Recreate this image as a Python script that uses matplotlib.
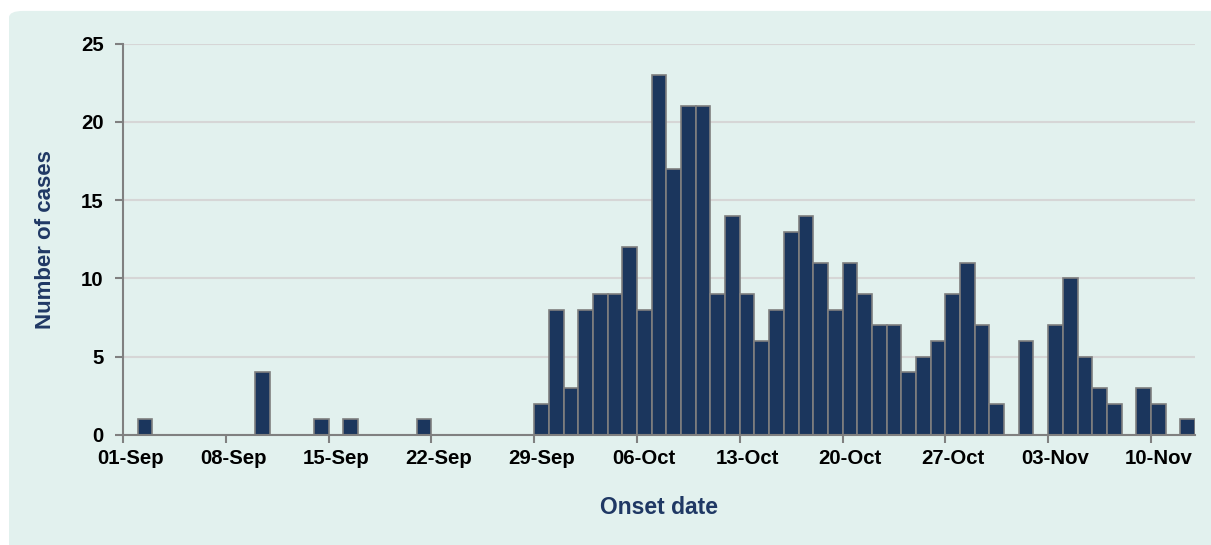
import pandas as pd
import numpy as np
import matplotlib
matplotlib.use('Agg')
import matplotlib.pyplot as plt
from matplotlib.patches import FancyBboxPatch

plt.rcParams['font.family'] = ['Liberation Sans', 'DejaVu Sans']

# daily onset counts, 01-Sep to 12-Nov
start_date = '2023-09-01'
cases = [0, 1, 0, 0, 0, 0, 0, 0, 0, 4,
         0, 0, 0, 1, 0, 1, 0, 0, 0, 0,
         1, 0, 0, 0, 0, 0, 0, 0, 2, 8,
         3, 8, 9, 9, 12, 8, 23, 17, 21, 21,
         9, 14, 9, 6, 8, 13, 14, 11, 8, 11,
         9, 7, 7, 4, 5, 6, 9, 11, 7, 2,
         0, 6, 0, 7, 10, 5, 3, 2, 0, 3,
         2, 0, 1]
tick_labels = ['01-Sep', '08-Sep', '15-Sep', '22-Sep', '29-Sep', '06-Oct',
               '13-Oct', '20-Oct', '27-Oct', '03-Nov', '10-Nov']

dates = pd.date_range(start_date, periods=len(cases), freq='D')
df = pd.DataFrame({'date': dates, 'cases': cases})

navy = '#1B365D'
bg = '#E2F1EE'

fig = plt.figure(figsize=(12.11, 5.45), dpi=100)
fig.patch.set_facecolor('white')
panel = FancyBboxPatch((9 / 1211, -0.05), 1.2, 1.03,
                       boxstyle='round,pad=0,rounding_size=0.012',
                       transform=fig.transFigure, facecolor=bg, edgecolor='none',
                       zorder=-10)
fig.patches.append(panel)

ax = fig.add_axes([123 / 1211, 110 / 545, 1072 / 1211, 391.3 / 545])
ax.set_facecolor(bg)

x = np.arange(len(df))
ax.bar(x, df['cases'], width=1.0, color=navy, edgecolor='#7F7F7F',
       linewidth=1.2, zorder=3)

ax.set_xlim(-0.5, len(df) - 0.5)
ax.set_ylim(0, 25)
ax.set_yticks([0, 5, 10, 15, 20, 25])
ax.yaxis.grid(True, color='#D6D6D6', linewidth=1.5, zorder=0)
ax.set_axisbelow(True)

# tick marks on category boundaries, labels on category centres
ax.set_xticks(np.arange(-0.5, len(df), 7))
ax.set_xticklabels([])
ax.set_xticks(np.arange(0, len(df), 7), minor=True)
ax.set_xticklabels(tick_labels, minor=True)
ax.tick_params(axis='x', which='major', length=6, width=1.5, color='#808080')
ax.tick_params(axis='x', which='minor', length=0, pad=10, labelsize=14.7)
ax.tick_params(axis='y', length=6, width=1.5, color='#808080', pad=8, labelsize=14.7)
for lab in ax.get_xticklabels(minor=True) + ax.get_yticklabels():
    lab.set_fontweight('bold')

for s in ['top', 'right']:
    ax.spines[s].set_visible(False)
for s in ['left', 'bottom']:
    ax.spines[s].set_color('#808080')
    ax.spines[s].set_linewidth(1.5)
    ax.spines[s].set_zorder(4)

ax.set_xlabel('Onset date', fontsize=16.5, fontweight='bold', color='#1F3864', labelpad=20)
ax.set_ylabel('Number of cases', fontsize=16, fontweight='bold', color='#1F3864', labelpad=18)

fig.savefig('out.png', dpi=100, facecolor='white')
